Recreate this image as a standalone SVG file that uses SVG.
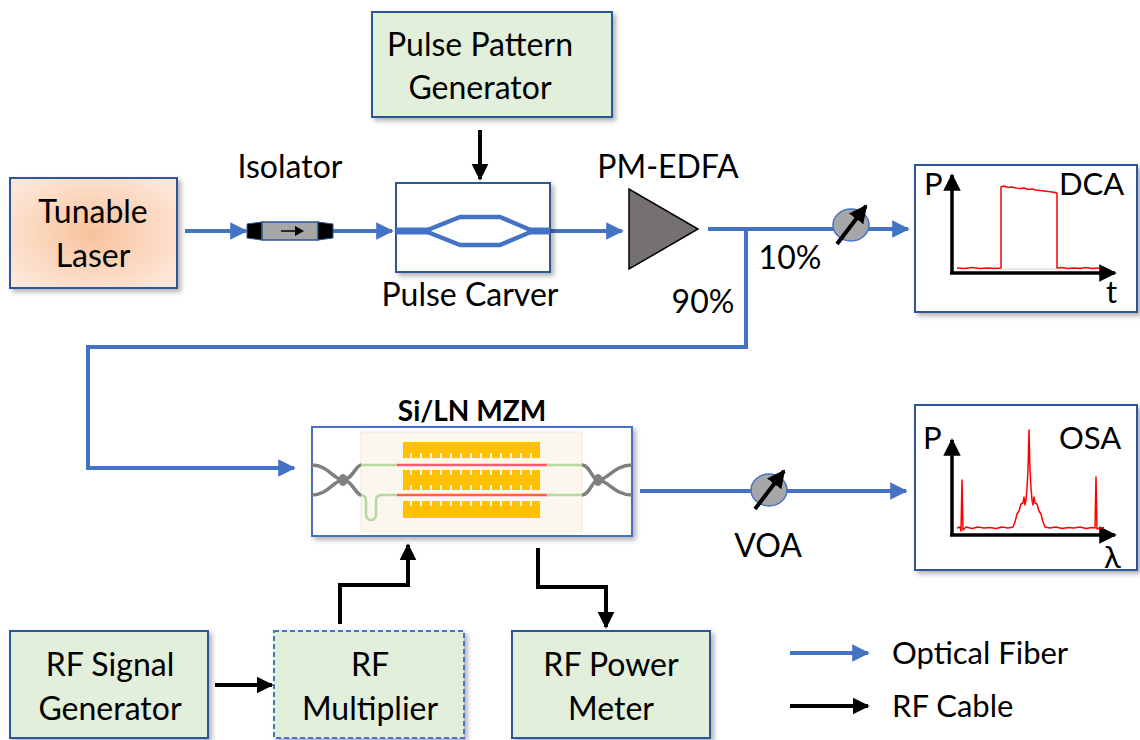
<svg xmlns="http://www.w3.org/2000/svg" width="1140" height="740" viewBox="0 0 1140 740">
  <defs>
    <filter id="shadow" x="-10%" y="-10%" width="125%" height="130%">
      <feDropShadow dx="3" dy="3" stdDeviation="2.5" flood-color="#000" flood-opacity="0.3"/>
    </filter>
    <radialGradient id="laserFill" cx="0.5" cy="0.5" r="0.6">
      <stop offset="0" stop-color="#f8c29c"/>
      <stop offset="1" stop-color="#fde6d6"/>
    </radialGradient>
    <marker id="arrBlue" viewBox="0 0 10 10" refX="9" refY="5" markerWidth="4.4" markerHeight="4.6" orient="auto" markerUnits="strokeWidth">
      <path d="M0,0 L10,5 L0,10 z" fill="#4472c4"/>
    </marker>
    <marker id="arrBlack" viewBox="0 0 10 10" refX="9" refY="5" markerWidth="4.2" markerHeight="4.4" orient="auto" markerUnits="strokeWidth">
      <path d="M0,0 L10,5 L0,10 z" fill="#000"/>
    </marker>
    <marker id="arrAxis" viewBox="0 0 10 10" refX="9" refY="5" markerWidth="5" markerHeight="5" orient="auto" markerUnits="strokeWidth">
      <path d="M0,0 L10,5 L0,10 z" fill="#000"/>
    </marker>
    <marker id="arrVoa" viewBox="0 0 10 10" refX="9" refY="5" markerWidth="4.5" markerHeight="4.5" orient="auto" markerUnits="strokeWidth">
      <path d="M0,0 L10,5 L0,10 z" fill="#000"/>
    </marker>
  </defs>
  <style>
    text { font-family: Lato, "Open Sans", "Liberation Sans", sans-serif; fill: #000; }
    .lbl { font-size: 32px; text-anchor: middle; }
    .box { fill: #e2efda; stroke: #2f5597; stroke-width: 2; }
    .scope { fill: #fff; stroke: #2f5597; stroke-width: 2; }
    .fiber { fill: none; stroke: #4472c4; stroke-width: 4; }
    .rf { fill: none; stroke: #000; stroke-width: 4; }
    .axis { fill: none; stroke: #000; stroke-width: 3.5; }
    .trace { fill: none; stroke: #ff0000; stroke-width: 1.5; stroke-linejoin: round; }
    .voa { fill: #a6a6a6; stroke: #4472c4; stroke-width: 1.5; }
    .plotlbl { font-size: 31px; }
  </style>

  <rect width="1140" height="740" fill="#fff"/>

  <!-- connectors -->
  <g id="connectors">
    <!-- optical path -->
    <line class="fiber" x1="185" y1="231" x2="246" y2="231" marker-end="url(#arrBlue)"/>
    <line class="fiber" x1="333" y1="231" x2="392" y2="231" marker-end="url(#arrBlue)"/>
    <line class="fiber" x1="548" y1="231" x2="622" y2="231" marker-end="url(#arrBlue)"/>
    <polyline class="fiber" points="708,229 746,229 746,347 88,347 88,468 294,468" marker-end="url(#arrBlue)"/>
    <line class="fiber" x1="746" y1="229" x2="908" y2="229" marker-end="url(#arrBlue)"/>
    <line class="fiber" x1="640" y1="491" x2="906" y2="491" marker-end="url(#arrBlue)"/>
    <!-- RF path -->
    <line class="rf" x1="480" y1="130" x2="480" y2="179" marker-end="url(#arrBlack)"/>
    <line class="rf" x1="215" y1="685" x2="272" y2="685" marker-end="url(#arrBlack)"/>
    <polyline class="rf" points="340,624 340,585 408,585 408,545" marker-end="url(#arrBlack)"/>
    <polyline class="rf" points="538,548 538,587 606,587 606,627" marker-end="url(#arrBlack)"/>
  </g>

  <!-- Pulse Pattern Generator -->
  <g id="ppg">
    <rect class="box" x="372" y="12" width="240" height="105" filter="url(#shadow)"/>
    <text class="lbl" x="480" y="56">Pulse Pattern</text>
    <text class="lbl" x="480" y="99">Generator</text>
  </g>

  <!-- Tunable Laser -->
  <g id="laser">
    <rect x="10" y="178" width="167" height="110" fill="url(#laserFill)" stroke="#2f5597" stroke-width="2" filter="url(#shadow)"/>
    <text class="lbl" x="93" y="223">Tunable</text>
    <text class="lbl" x="93" y="267">Laser</text>
  </g>

  <!-- Isolator -->
  <g id="isolator">
    <text class="lbl" x="290" y="178">Isolator</text>
    <polygon points="247,224 262,222 262,240 247,238" fill="#000" stroke="#2f5597" stroke-width="1"/>
    <rect x="262" y="222" width="56" height="18" fill="#a6a6a6" stroke="#2f5597" stroke-width="1.5"/>
    <polygon points="318,222 333,224 333,238 318,240" fill="#000" stroke="#2f5597" stroke-width="1"/>
    <line x1="281" y1="231" x2="298" y2="231" stroke="#000" stroke-width="1.5"/>
    <polygon points="295,226 304,231 295,236" fill="#000"/>
  </g>

  <!-- Pulse Carver -->
  <g id="carver">
    <rect x="396" y="183" width="154" height="89" fill="#fff" stroke="#2f5597" stroke-width="2" filter="url(#shadow)"/>
    <polyline points="396,231 425,231 460,217 500,217 533,231 550,231" fill="none" stroke="#4472c4" stroke-width="4.5" stroke-linejoin="round"/>
    <polyline points="425,231 460,245 500,245 533,231" fill="none" stroke="#4472c4" stroke-width="4.5" stroke-linejoin="round"/>
    <line x1="396" y1="231" x2="430" y2="231" stroke="#4472c4" stroke-width="7"/>
    <line x1="530" y1="231" x2="550" y2="231" stroke="#4472c4" stroke-width="7"/>
    <text class="lbl" x="470" y="306">Pulse Carver</text>
  </g>

  <!-- PM-EDFA -->
  <g id="edfa">
    <text class="lbl" x="668" y="178">PM-EDFA</text>
    <polygon points="629,189 629,269 698,229" fill="#767171" stroke="#000" stroke-width="1.5"/>
  </g>

  <!-- splitter labels -->
  <g id="split-labels">
    <text class="lbl" x="790" y="269">10%</text>
    <text class="lbl" x="703" y="313">90%</text>
  </g>

  <!-- VOA before DCA -->
  <g id="voa1">
    <ellipse class="voa" cx="851" cy="225" rx="18" ry="16"/>
    <line x1="837" y1="244" x2="866" y2="206" stroke="#000" stroke-width="4" marker-end="url(#arrVoa)"/>
  </g>

  <!-- DCA -->
  <g id="dca">
    <rect class="scope" x="915" y="165" width="222" height="147" filter="url(#shadow)"/>
    <text class="plotlbl" x="924" y="195">P</text>
    <text class="plotlbl" x="1059" y="195">DCA</text>
    <text class="plotlbl" x="1106" y="303">t</text>
    <line class="axis" x1="952" y1="273" x2="952" y2="175" marker-end="url(#arrAxis)"/>
    <line class="axis" x1="950" y1="273" x2="1115" y2="273" marker-end="url(#arrAxis)"/>
    <line x1="1001" y1="269" x2="1057" y2="269" stroke="#d0d0d0" stroke-width="1"/>
    <polyline class="trace" points="957,268 965,268.5 972,267.5 980,268.5 988,268 995,268.5 1001,268 1001,187 1004,186 1008,187.5 1012,187 1016,188 1020,188.5 1024,188 1028,189.5 1032,189 1036,190 1040,190.5 1044,191 1048,191.5 1052,192 1057,193 1057,268 1062,267.5 1068,268.5 1074,268 1080,268.5 1086,267.5 1092,268.5 1100,268"/>
  </g>

  <!-- Si/LN MZM -->
  <g id="mzm">
    <text x="472" y="421" font-size="28" font-weight="bold" text-anchor="middle">Si/LN MZM</text>
    <rect x="312" y="427" width="320" height="109" fill="#fff" stroke="#4472c4" stroke-width="2" filter="url(#shadow)"/>
    <rect x="361" y="432" width="221" height="99" fill="#fbf7ee" stroke="#f3e6d3" stroke-width="1"/>
    <!-- electrodes -->
    <rect x="403" y="442" width="137" height="16" fill="#ffc000"/>
    <rect x="403" y="470" width="137" height="20" fill="#ffc000"/>
    <rect x="403" y="501" width="137" height="17" fill="#ffc000"/>
    <g fill="#fbf7ee">
      <path d="M410,453h2v5h-2zM420,453h2v5h-2zM430,453h2v5h-2zM440,453h2v5h-2zM450,453h2v5h-2zM460,453h2v5h-2zM470,453h2v5h-2zM480,453h2v5h-2zM490,453h2v5h-2zM500,453h2v5h-2zM510,453h2v5h-2zM520,453h2v5h-2zM530,453h2v5h-2z"/>
      <path d="M410,470h2v5h-2zM420,470h2v5h-2zM430,470h2v5h-2zM440,470h2v5h-2zM450,470h2v5h-2zM460,470h2v5h-2zM470,470h2v5h-2zM480,470h2v5h-2zM490,470h2v5h-2zM500,470h2v5h-2zM510,470h2v5h-2zM520,470h2v5h-2zM530,470h2v5h-2z"/>
      <path d="M410,485h2v5h-2zM420,485h2v5h-2zM430,485h2v5h-2zM440,485h2v5h-2zM450,485h2v5h-2zM460,485h2v5h-2zM470,485h2v5h-2zM480,485h2v5h-2zM490,485h2v5h-2zM500,485h2v5h-2zM510,485h2v5h-2zM520,485h2v5h-2zM530,485h2v5h-2z"/>
      <path d="M410,501h2v5h-2zM420,501h2v5h-2zM430,501h2v5h-2zM440,501h2v5h-2zM450,501h2v5h-2zM460,501h2v5h-2zM470,501h2v5h-2zM480,501h2v5h-2zM490,501h2v5h-2zM500,501h2v5h-2zM510,501h2v5h-2zM520,501h2v5h-2zM530,501h2v5h-2z"/>
    </g>
    <!-- waveguides -->
    <g fill="none" stroke-width="2.5" stroke-linecap="round">
      <line x1="361" y1="465" x2="398" y2="465" stroke="#b5d99c"/>
      <line x1="398" y1="465" x2="548" y2="465" stroke="#ff5b5b"/>
      <line x1="548" y1="465" x2="582" y2="465" stroke="#b5d99c"/>
      <path d="M361,495 Q366,495 366,502 L366,514 Q366,520 371,520 Q376,520 376,514 L376,500 Q376,495 382,495 L398,495" stroke="#b5d99c"/>
      <line x1="398" y1="495" x2="548" y2="495" stroke="#ff5b5b"/>
      <line x1="548" y1="495" x2="582" y2="495" stroke="#b5d99c"/>
    </g>
    <!-- couplers -->
    <g fill="none" stroke="#7f7f7f" stroke-width="3.5">
      <path d="M312,465 C328,465 334,480 343,480 C352,480 356,465 361,465"/>
      <path d="M312,495 C328,495 334,480 343,480 C352,480 356,495 361,495"/>
      <path d="M582,465 C590,465 592,480 598,480 C608,480 614,465 632,465"/>
      <path d="M582,495 C590,495 592,480 598,480 C608,480 614,495 632,495"/>
    </g>
    <ellipse cx="343" cy="480" rx="4.5" ry="6" fill="#7f7f7f"/>
    <ellipse cx="598" cy="480" rx="4.5" ry="6" fill="#7f7f7f"/>
  </g>

  <!-- VOA before OSA -->
  <g id="voa2">
    <ellipse class="voa" cx="769" cy="490" rx="18" ry="16"/>
    <line x1="755" y1="509" x2="784" y2="471" stroke="#000" stroke-width="4" marker-end="url(#arrVoa)"/>
    <text class="lbl" x="768" y="557">VOA</text>
  </g>

  <!-- OSA -->
  <g id="osa">
    <rect class="scope" x="915" y="405" width="222" height="165" filter="url(#shadow)"/>
    <text class="plotlbl" x="923" y="449">P</text>
    <text class="plotlbl" x="1059" y="449">OSA</text>
    <text class="plotlbl" x="1104" y="568">λ</text>
    <line class="axis" x1="952" y1="535" x2="952" y2="440" marker-end="url(#arrAxis)"/>
    <line class="axis" x1="950" y1="535" x2="1115" y2="535" marker-end="url(#arrAxis)"/>
    <polyline class="trace" points="957,528 960,527 961,531 962,480 963,530 966,527 972,528.5 978,527 984,528 990,527.5 996,528.5 1002,527 1008,528 1013,527 1015,522 1017,514 1019,511 1021,504 1023,503 1024,497 1025,505 1026,500 1027,488 1028,470 1029,430 1030,470 1031,488 1032,500 1033,505 1034,497 1035,503 1037,504 1039,511 1041,514 1043,522 1045,527 1050,528 1056,527 1062,528.5 1068,527.5 1074,528 1080,527 1086,528.5 1092,527.5 1095,528 1096,477 1097,529 1100,528 1104,527.5"/>
  </g>

  <!-- RF Signal Generator -->
  <g id="rf-siggen">
    <rect class="box" x="10" y="631" width="198" height="107" filter="url(#shadow)"/>
    <text class="lbl" x="110" y="676">RF Signal</text>
    <text class="lbl" x="110" y="720">Generator</text>
  </g>

  <!-- RF Multiplier -->
  <g id="rf-mult">
    <rect x="274" y="631" width="190" height="107" fill="#e2efda" stroke="#4472c4" stroke-width="2" stroke-dasharray="5,3" filter="url(#shadow)"/>
    <text class="lbl" x="370" y="676">RF</text>
    <text class="lbl" x="370" y="720">Multiplier</text>
  </g>

  <!-- RF Power Meter -->
  <g id="rf-pm">
    <rect class="box" x="512" y="631" width="198" height="107" filter="url(#shadow)"/>
    <text class="lbl" x="611" y="676">RF Power</text>
    <text class="lbl" x="611" y="720">Meter</text>
  </g>

  <!-- legend -->
  <g id="legend">
    <line class="fiber" x1="790" y1="653" x2="868" y2="653" marker-end="url(#arrBlue)"/>
    <text x="892" y="664" font-size="31">Optical Fiber</text>
    <line class="rf" x1="790" y1="706" x2="868" y2="706" marker-end="url(#arrBlack)"/>
    <text x="892" y="717" font-size="31">RF Cable</text>
  </g>
</svg>
